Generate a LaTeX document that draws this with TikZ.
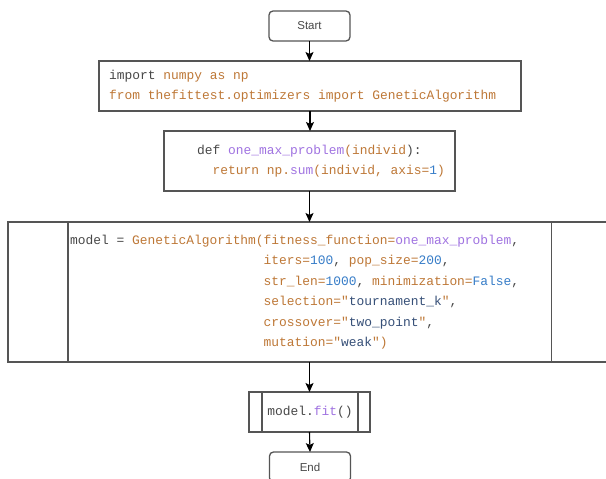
\documentclass[tikz,border=0pt]{standalone}
\usepackage{fontspec}
\setmainfont{Liberation Sans}
\newfontfamily\codefnt{Liberation Mono}
\usetikzlibrary{arrows.meta}
\definecolor{cGray}{RGB}{72,72,72}
\definecolor{cBrown}{RGB}{190,120,55}
\definecolor{cPurple}{RGB}{160,115,225}
\definecolor{cBlue}{RGB}{55,125,200}
\definecolor{cNavy}{RGB}{55,80,120}
\definecolor{lineGray}{RGB}{85,85,85}
\newcommand{\cGr}[1]{\textcolor{cGray}{#1}}
\newcommand{\cBr}[1]{\textcolor{cBrown}{#1}}
\newcommand{\cPu}[1]{\textcolor{cPurple}{#1}}
\newcommand{\cBl}[1]{\textcolor{cBlue}{#1}}
\newcommand{\cNv}[1]{\textcolor{cNavy}{#1}}
\begin{document}
\begin{tikzpicture}[x=1pt,y=1pt,
  box/.style={draw=lineGray,line width=1.3pt,fill=white,inner sep=0pt,outer sep=0pt},
  term/.style={box,rounded corners=4pt,minimum width=81pt,minimum height=30pt,font=\fontsize{11.5}{13}\selectfont,text=cGray},
  codetxt/.style={inner sep=0pt,align=left,anchor=west,font=\codefnt\fontsize{12.9}{20.5}\selectfont,text=cGray},
  arr/.style={draw=black,line width=1.1pt,-{Stealth[length=9pt,width=8pt,inset=2pt]}}]
\clip (0,0) rectangle (606,-479);
\fill[white] (0,0) rectangle (606,-479);
% nodes
\node[term] (start) at (309.5,-26) {Start};
\node[box,minimum width=422pt,minimum height=50pt] (b1) at (310,-86) {};
\node[box,minimum width=291pt,minimum height=60pt] (b2) at (309.5,-161) {};
\node[box,minimum width=612pt,minimum height=140pt] (b3) at (314,-292) {};
\node[box,minimum width=121pt,minimum height=40pt] (fit) at (309.5,-412) {};
\node[term] (end) at (310,-467) {End};
% inner lines of predefined-process boxes
\coordinate (b3l) at (68,0);
\coordinate (b3r) at (551.5,0);
\draw[draw=lineGray,line width=1.3pt] (b3l |- b3.north) -- (b3l |- b3.south);
\draw[draw=lineGray,line width=1.3pt] (b3r |- b3.north) -- (b3r |- b3.south);
\coordinate (fl) at (262,0);
\coordinate (fr) at (358,0);
\draw[draw=lineGray,line width=1.3pt] (fl |- fit.north) -- (fl |- fit.south);
\draw[draw=lineGray,line width=1.3pt] (fr |- fit.north) -- (fr |- fit.south);
% texts
\node[codetxt] (t1) at (109,-86) {\cGr{import }\cBr{numpy as np}\\
\cBr{from thefittest.optimizers import GeneticAlgorithm}};
\node[codetxt] (t2) at (197,-161) {\cGr{def }\cPu{one\_max\_problem}\cBr{(individ}\cGr{):}\\
\hphantom{re}\cBr{return np.}\cPu{sum}\cBr{(individ, axis=}\cBl{1}\cBr{)}};
\node[codetxt] (t3) at (70,-292) {\cGr{model = }\cBr{GeneticAlgorithm(fitness\_function=}\cPu{one\_max\_problem}\cGr{,}\\
\hphantom{model = GeneticAlgorithm(}\cBr{iters=}\cBl{100}\cGr{, }\cBr{pop\_size=}\cBl{200}\cGr{,}\\
\hphantom{model = GeneticAlgorithm(}\cBr{str\_len=}\cBl{1000}\cGr{, }\cBr{minimization=}\cBl{False}\cGr{,}\\
\hphantom{model = GeneticAlgorithm(}\cBr{selection="}\cNv{tournament\_k}\cBr{"}\cGr{,}\\
\hphantom{model = GeneticAlgorithm(}\cBr{crossover="}\cNv{two\_point}\cBr{"}\cGr{,}\\
\hphantom{model = GeneticAlgorithm(}\cBr{mutation="}\cNv{weak}\cBr{")}};
\node[codetxt,anchor=center] (t4) at (310,-412) {\cGr{model.}\cPu{fit}\cGr{()}};
% connectors
\draw[arr] (start.south) -- (start.south |- b1.north);
\draw[arr] (b1.south) -- (b1.south |- b2.north);
\draw[arr] (b2.south) -- (b2.south |- b3.north);
\draw[arr] (b2.south |- b3.south) -- (b2.south |- fit.north);
\draw[arr] (fit.south) -- (end.north);
\end{tikzpicture}
\end{document}
